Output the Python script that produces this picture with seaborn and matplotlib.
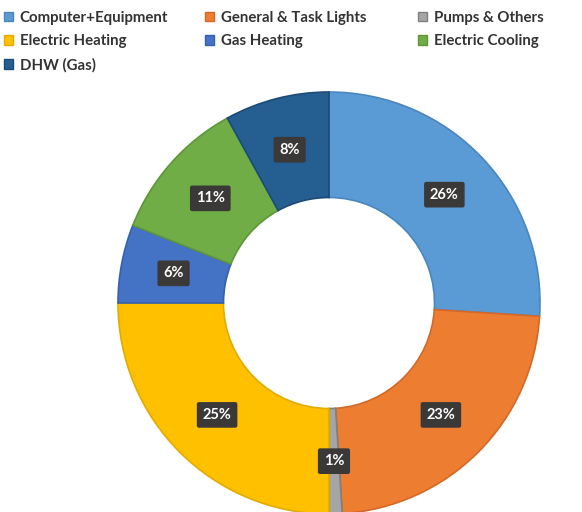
import matplotlib
matplotlib.use("Agg")
import matplotlib.pyplot as plt
import seaborn as sns
import numpy as np
from matplotlib.patches import Patch

categories = ["Computer+Equipment", "General & Task Lights", "Pumps & Others",
              "Electric Heating", "Gas Heating", "Electric Cooling", "DHW (Gas)"]
values = [26, 23, 1, 25, 6, 11, 8]
colors = ["#5B9BD5", "#ED7D31", "#A5A5A5", "#FFC000", "#4472C4", "#70AD47", "#255E91"]
edges = ["#4A86BE", "#D2692A", "#7F7F7F", "#E3AB00", "#3560AE", "#5E963A", "#1C4B76"]

sns.set_theme(style="white")
plt.rcParams['font.family'] = ['Lato', 'DejaVu Sans']

fig = plt.figure(figsize=(5.82, 5.12), dpi=100)
W, H = 582, 512
cx, cy, R = 329, 303, 211
ax = fig.add_axes([(cx - R) / W, (H - cy - R) / H, 2 * R / W, 2 * R / H])

wedges, _ = ax.pie(values, colors=colors, startangle=90, counterclock=False,
                   radius=1.0, wedgeprops=dict(width=0.5, linewidth=1.2))
for w, ec in zip(wedges, edges):
    w.set_edgecolor(ec)

cum = np.cumsum([0] + values[:-1])
for v, c in zip(values, cum):
    mid = 90 - (c + v / 2) / sum(values) * 360
    r = 0.75
    x, y = r * np.cos(np.radians(mid)), r * np.sin(np.radians(mid))
    ax.text(x, y, f"{v}%", ha="center", va="center", color="white",
            fontsize=10.5, fontweight="bold",
            bbox=dict(boxstyle="round,pad=0.4,rounding_size=0.15",
                      fc="#3B3838", ec="none"))
ax.set_xlim(-1, 1)
ax.set_ylim(-1, 1)
ax.set_aspect("equal")
ax.axis("off")

# legend in three columns (row-major order)
cols = [[0, 3, 6], [1, 4], [2, 5]]
xs = [4, 205, 418]
for col, x0 in zip(cols, xs):
    handles = [Patch(facecolor=colors[i], edgecolor=edges[i], label=categories[i]) for i in col]
    leg = fig.legend(handles=handles, loc="upper left",
                     bbox_to_anchor=(x0 / W, 1 - 11 / H), frameon=False,
                     prop=dict(weight="bold", size=10.8),
                     handlelength=0.6, handleheight=0.6, handletextpad=0.45,
                     labelspacing=0.62, borderpad=0, borderaxespad=0)
    for t in leg.get_texts():
        t.set_color("#333333")

fig.savefig("out.png", dpi=100)
